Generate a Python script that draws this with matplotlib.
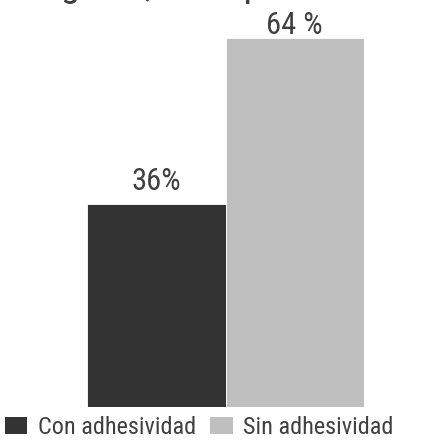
import matplotlib
matplotlib.use("Agg")
import matplotlib.pyplot as plt
from matplotlib.patches import Patch

FONT = ["Roboto Condensed", "DejaVu Sans"]

categories = ["Con adhesividad", "Sin adhesividad"]
values = [36, 64]
labels = ["36%", "64 %"]
colors = ["#333333", "#bfbfbf"]
title = "Nivel de daño grave, en la población"
title_prefix = "Nivel de daño "

W, H = 443, 444
fig = plt.figure(figsize=(W / 100, H / 100), dpi=100)
ax = fig.add_axes([0.1964, 0.0833, 0.6253, 0.9167])
x = list(range(len(categories)))
ax.bar(x, values, width=1.0, color=colors, edgecolor="white", linewidth=0.6)
ax.set_xlim(-0.5, 1.5)
ax.set_ylim(1.5, 70.5)
ax.axis("off")

offsets = [9.6, 3.1]
for xi, v, lab, off in zip(x, values, labels, offsets):
    ax.annotate(lab, (xi, v), xytext=(0, off), textcoords="offset points",
                ha="center", va="baseline", fontsize=22, color="#404040",
                family=FONT)

# title: only its descenders show at the top edge; place the "g" near x=61px
TSIZE = 28
renderer = fig.canvas.get_renderer()
tmp = fig.text(0, 0, title_prefix + "g", fontsize=TSIZE, family=FONT)
tmp_g = fig.text(0, 0, "g", fontsize=TSIZE, family=FONT)
w_prefix = tmp.get_window_extent(renderer).width - tmp_g.get_window_extent(renderer).width
tmp.remove(); tmp_g.remove()
fig.text((61 - w_prefix) / W, 1.008, title, ha="left", va="baseline", fontsize=TSIZE,
         color="#404040", family=FONT)

handles = [Patch(facecolor=c, edgecolor="none") for c in colors]
fig.legend(handles, categories, loc="lower left", bbox_to_anchor=(0.0, 0.0),
           ncol=2, frameon=False, handlelength=0.93, handleheight=0.68,
           handletextpad=0.42, columnspacing=0.6, borderpad=0.2, borderaxespad=0.0,
           prop={"family": FONT, "size": 17.5}, labelcolor="#404040")

fig.savefig("out.png", dpi=100)
